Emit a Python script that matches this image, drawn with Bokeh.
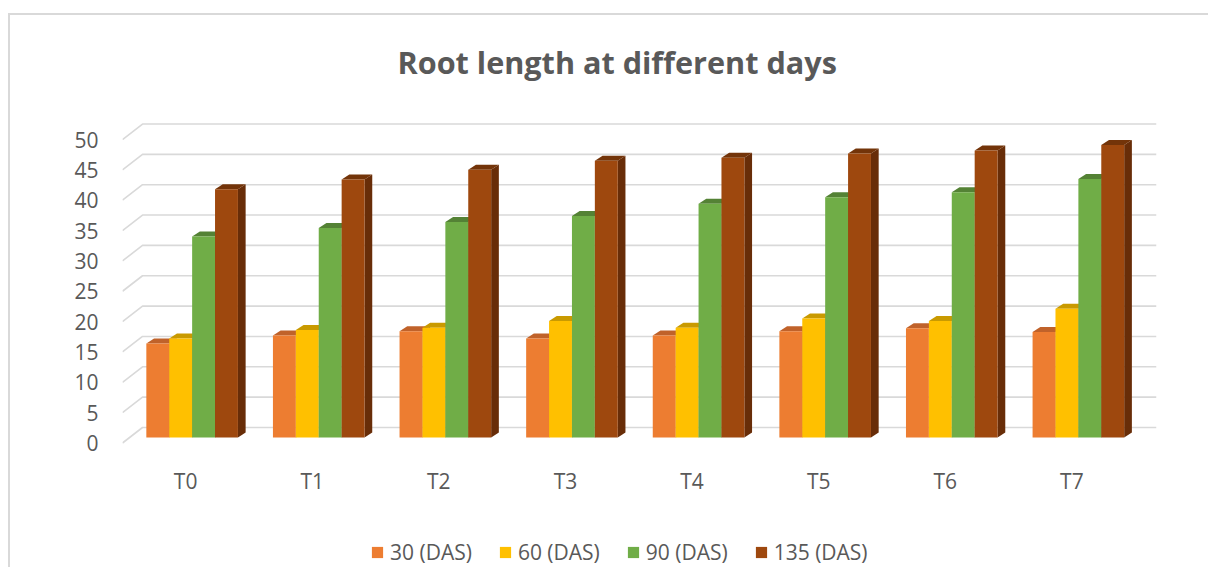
from bokeh.plotting import figure
from bokeh.layouts import column
from bokeh.models import Range1d, FixedTicker, Legend, LegendItem
from bokeh.core.properties import value
from bokeh.embed import file_html
from bokeh.resources import INLINE

# ---------------- data ----------------
categories = ["T0", "T1", "T2", "T3", "T4", "T5", "T6", "T7"]
series_names = ["30 (DAS)", "60 (DAS)", "90 (DAS)", "135 (DAS)"]
das30 = [15.5, 16.8, 17.5, 16.3, 16.8, 17.5, 18.0, 17.4]
das60 = [16.3, 17.7, 18.1, 19.2, 18.1, 19.6, 19.2, 21.2]
das90 = [33.1, 34.5, 35.5, 36.5, 38.5, 39.6, 40.4, 42.6]
das135 = [40.9, 42.5, 44.1, 45.6, 46.1, 46.8, 47.3, 48.2]
y_ticks = [0, 5, 10, 15, 20, 25, 30, 35, 40, 45, 50]

series = [das30, das60, das90, das135]
front_colors = ["#ED7D31", "#FFC000", "#70AD47", "#9E480E"]
top_colors = ["#C0622A", "#C99A00", "#548235", "#733409"]
side_colors = ["#B5561F", "#BF9000", "#507E32", "#682D08"]

FONT = "Open Sans"
TXT = "#595959"

FRAME_W, FRAME_H = 1034, 335
X0, X1 = -0.55, 7.617
Y0, Y1 = -0.741, 54.45
px_x = FRAME_W / (X1 - X0)
px_y = FRAME_H / (Y1 - Y0)


def dxp(px):
    return px / px_x


def dyp(px):
    return px / px_y


BAR_W = dxp(22.9)
DEPTH_X, DEPTH_Y = dxp(7.7), dyp(5.0)
BASE = dyp(5.5)
WALL_X, WALL_Y = dxp(20.0), dyp(15.5)

p = figure(frame_width=FRAME_W, frame_height=FRAME_H,
           x_range=Range1d(X0, X1), y_range=Range1d(Y0, Y1),
           output_backend="svg", toolbar_location=None,
           min_border_left=112, min_border_right=52,
           min_border_top=101, min_border_bottom=60,
           title="Root length at different days",
           background_fill_color="white", border_fill_alpha=0,
           styles={"margin-top": "-6px"})
p.outline_line_color = None
p.xgrid.visible = False
p.ygrid.visible = False

p.title.align = "left"
p.title.offset = 275
p.title.standoff = 59
p.title.text_font = FONT
p.title.text_font_size = "30.6px"
p.title.text_font_style = "bold"
p.title.text_color = TXT

# back wall / side wall gridlines
gxs, gys = [], []
for v in y_ticks:
    gxs.append([X0, X0 + WALL_X, X1])
    gys.append([v, v + WALL_Y, v + WALL_Y])
p.multi_line(gxs, gys, line_color="#D9D9D9", line_width=1.6)

# 3D bars
n = len(categories)
for j, vals in enumerate(series):
    lefts = [i + (j - 2) * BAR_W for i in range(n)]
    rights = [l + BAR_W for l in lefts]
    tops = [BASE + v for v in vals]
    side_x = [[r, r + DEPTH_X, r + DEPTH_X, r] for r in rights]
    side_y = [[BASE, BASE + DEPTH_Y, t + DEPTH_Y, t] for t in tops]
    p.patches(side_x, side_y, fill_color=side_colors[j], line_color=None)
    top_x = [[l, l + DEPTH_X, r + DEPTH_X, r] for l, r in zip(lefts, rights)]
    top_y = [[t, t + DEPTH_Y, t + DEPTH_Y, t] for t in tops]
    p.patches(top_x, top_y, fill_color=top_colors[j], line_color=None)
    centers = [l + BAR_W / 2 for l in lefts]
    p.vbar(x=centers, width=BAR_W, bottom=BASE, top=tops,
           fill_color=front_colors[j], line_color=None)

# axes
x_tick_pos = [i - dxp(6.5) for i in range(n)]
p.xaxis.ticker = FixedTicker(ticks=x_tick_pos)
p.xaxis.major_label_overrides = {t: c for t, c in zip(x_tick_pos, categories)}
p.yaxis.ticker = FixedTicker(ticks=y_ticks)
for ax in (p.xaxis, p.yaxis):
    ax.axis_line_color = None
    ax.major_tick_line_color = None
    ax.minor_tick_line_color = None
    ax.major_tick_out = 0
    ax.major_tick_in = 0
    ax.minor_tick_out = 0
    ax.major_label_text_font = FONT
    ax.major_label_text_font_size = "21px"
    ax.major_label_text_color = TXT
p.yaxis.major_label_standoff = 24
p.xaxis.major_label_standoff = 19

# legend strip below the chart (legend keys are off-range proxy glyphs)
LEG_W, LEG_H = 1198, 60
p2 = figure(frame_width=LEG_W, frame_height=LEG_H,
            x_range=Range1d(0, 1), y_range=Range1d(0, 1),
            output_backend="svg", toolbar_location=None,
            x_axis_location=None, y_axis_location=None,
            min_border=0, min_border_left=0, min_border_right=0,
            min_border_top=0, min_border_bottom=0,
            background_fill_color="white", border_fill_color="white")
p2.outline_line_color = None
p2.xgrid.visible = False
p2.ygrid.visible = False
key_renderers = [p2.vbar(x=[-1.0], top=[0.0], width=0.1, fill_color=c,
                         line_color=None)
                 for c in front_colors]
legend = Legend(items=[LegendItem(label=value(nm), renderers=[r])
                       for nm, r in zip(series_names, key_renderers)],
                orientation="horizontal", location=(360, 1),
                glyph_width=14, glyph_height=14, label_standoff=6, spacing=26,
                padding=0, margin=0, border_line_color=None,
                background_fill_alpha=0,
                label_text_font=FONT, label_text_font_size="21px",
                label_text_color=TXT)
p2.add_layout(legend, "center")

layout = column(p, p2, spacing=0,
                styles={"border-top": "2px solid #D9D9D9",
                        "border-left": "2px solid #D9D9D9",
                        "margin-top": "13px", "margin-left": "8px"})

open("out.html", "w").write(file_html(layout, INLINE))
